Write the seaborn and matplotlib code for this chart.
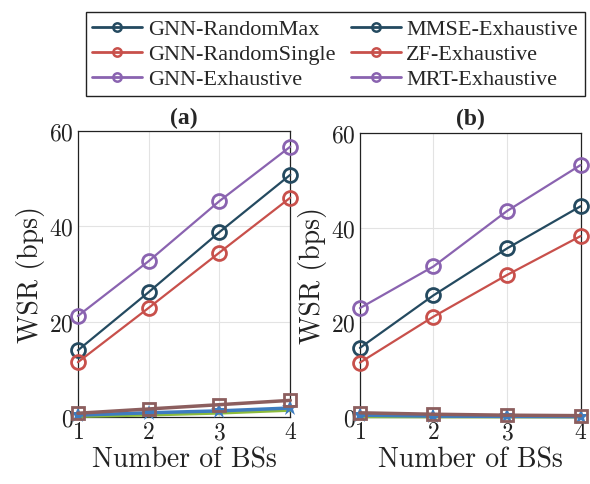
import matplotlib
matplotlib.use("Agg")
import matplotlib.pyplot as plt
from matplotlib.lines import Line2D
import seaborn as sns

sns.set_style("white")
plt.rcParams['font.family'] = ['cmr10', 'DejaVu Serif']
plt.rcParams['axes.formatter.use_mathtext'] = True

bs = [1, 2, 3, 4]

# panel (a)
a_gnn_exh = [21.2, 32.7, 45.3, 56.7]
a_gnn_rmax = [14.0, 26.2, 38.8, 50.8]
a_gnn_rsingle = [11.5, 22.9, 34.5, 46.0]
a_low_brown = [0.8, 1.7, 2.6, 3.5]
a_low_blue = [0.4, 0.9, 1.3, 1.9]
a_low_green = [0.1, 0.4, 0.8, 1.4]

# panel (b)
b_gnn_exh = [23.0, 31.8, 43.5, 53.2]
b_gnn_rmax = [14.6, 25.7, 35.6, 44.5]
b_gnn_rsingle = [11.5, 21.2, 30.0, 38.2]
b_low_brown = [0.9, 0.6, 0.4, 0.3]
b_low_blue = [0.4, 0.2, 0.15, 0.1]
b_low_green = [0.05, 0.02, 0.01, 0.01]

labels = ["GNN-RandomMax", "GNN-RandomSingle", "GNN-Exhaustive",
          "MMSE-Exhaustive", "ZF-Exhaustive", "MRT-Exhaustive"]

navy = "#244a60"
red = "#c8504b"
purple = "#8a63b0"
brown = "#8c5e5e"
blue = "#3d7cc0"
green = "#8cbb3c"

fig = plt.figure(figsize=(5.9, 4.85), dpi=100)
ax_a = fig.add_axes([0.132, 0.138, 0.36, 0.590])
ax_b = fig.add_axes([0.610, 0.138, 0.374, 0.586])


def draw(ax, exh, rmax, rsingle, lb, lbl, lg, title):
    sns.lineplot(x=bs, y=lg, ax=ax, color=green, marker="v", markersize=5,
                 markeredgewidth=0, linewidth=2, clip_on=False, zorder=3)
    sns.lineplot(x=bs, y=lbl, ax=ax, color=blue, marker="*", markersize=12,
                 markeredgewidth=0, linewidth=2.5, clip_on=False, zorder=4)
    sns.lineplot(x=bs, y=lb, ax=ax, color=brown, marker="s", markersize=9,
                 markerfacecolor="none", markeredgecolor=brown, markeredgewidth=2,
                 linewidth=2.5, clip_on=False, zorder=5)
    for vals, c in [(exh, purple), (rmax, navy), (rsingle, red)]:
        sns.lineplot(x=bs, y=vals, ax=ax, color=c, marker="o", markersize=10,
                     markerfacecolor="none", markeredgecolor=c, markeredgewidth=2,
                     linewidth=1.6, clip_on=False, zorder=6)
    ax.set_xlim(1, 4)
    ax.set_ylim(0, 60)
    ax.set_xticks(bs)
    ax.set_yticks([0, 20, 40, 60])
    ax.grid(True, color="#e3e3e3", linewidth=0.8)
    for s in ax.spines.values():
        s.set_color("#222222")
        s.set_linewidth(0.9)
    ax.tick_params(labelsize=17, length=0, pad=3, colors="#222222")
    ax.set_xlabel("Number of BSs", fontsize=20, color="#222222", labelpad=2)
    ax.set_ylabel("WSR (bps)", fontsize=20, color="#222222", labelpad=3)
    ax.set_title(title, fontsize=17, fontweight="bold", family="Liberation Serif", pad=6)


draw(ax_a, a_gnn_exh, a_gnn_rmax, a_gnn_rsingle, a_low_brown, a_low_blue, a_low_green, "(a)")
draw(ax_b, b_gnn_exh, b_gnn_rmax, b_gnn_rsingle, b_low_brown, b_low_blue, b_low_green, "(b)")

leg_colors = [navy, red, purple, navy, red, purple]
handles = [Line2D([0], [0], color=c, marker="o", markersize=6, markerfacecolor="none",
                  markeredgewidth=1.8, linewidth=2) for c in leg_colors]
fig.legend(handles, labels, ncol=2, loc="upper center", bbox_to_anchor=(0.568, 0.982),
           frameon=True, fancybox=False, edgecolor="#222222", framealpha=1,
           prop={"family": "Liberation Serif", "size": 16}, handlelength=2.25,
           columnspacing=0.7, handletextpad=0.25, labelspacing=0.2, borderpad=0.3,
           borderaxespad=0.2)

fig.savefig("out.png", dpi=100)
